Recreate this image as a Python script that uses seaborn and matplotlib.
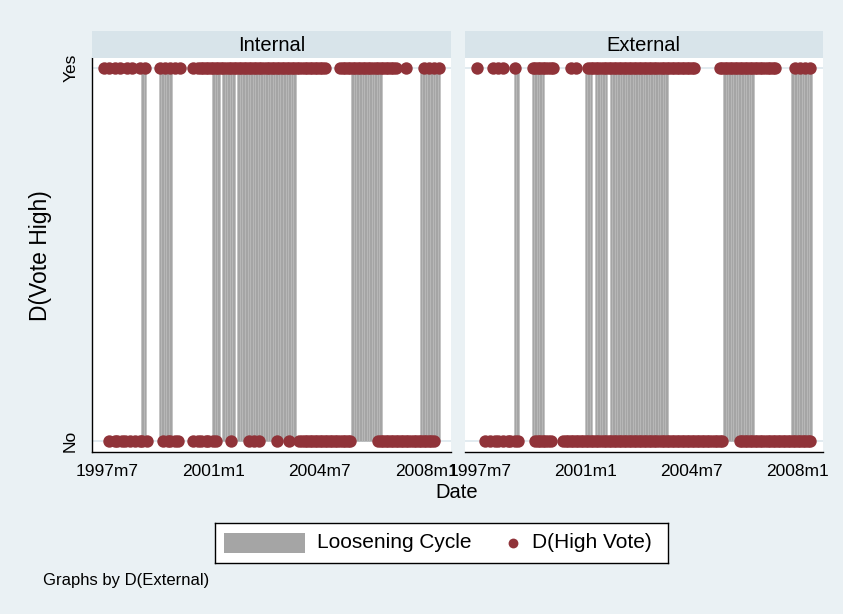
import numpy as np
import pandas as pd
import matplotlib
matplotlib.use('Agg')
import matplotlib.pyplot as plt
import seaborn as sns
from matplotlib.patches import Rectangle

# Stata monthly dates (%tm = months since 1960m1), so 450 is 1997m7
loosening = [464, 465, 471, 472, 473, 474, 475, 492, 493, 494, 496, 497, 498, 499, 500,
             502, 503, 504, 505, 506, 507, 508, 509, 510, 511, 512, 513, 514, 515, 516,
             517, 518, 519, 520, 521, 522, 523, 524, 547, 548, 549, 550, 551, 552, 553,
             554, 555, 556, 557, 558, 574, 575, 576, 577, 578, 579, 580, 581]

internal_yes = [449, 451, 453, 455, 458, 460, 463, 465,
                471, 473, 475, 477, 479,
                484, 486, 487, 488, 489, 490, 491, 492, 493, 494, 495, 496, 497, 498, 499,
                500, 501, 502, 503, 504, 505, 506, 507, 508, 509, 510, 511, 512, 513, 514,
                515, 516, 517, 518, 519, 520, 521, 522, 523, 524, 525, 526, 527, 528, 529,
                530, 531, 532, 533, 534, 535, 536,
                542, 543, 544, 545, 546, 547, 548, 549, 550, 551, 552, 553, 554, 555, 556,
                557, 558, 559, 560, 561, 562, 563, 564, 568,
                575, 577, 579, 581]
internal_no = [451, 453, 454, 456, 457, 459, 461, 463, 464, 466,
               472, 474, 475, 477, 478,
               484, 486, 487, 489, 490, 492, 493,
               499, 506, 508, 510, 517, 522,
               526, 527, 528, 529, 530, 531, 532, 533, 534, 535, 536, 537, 538, 539, 540,
               541, 542, 543, 544, 545, 546,
               557, 558, 559, 560, 561, 562, 563, 564, 565, 566, 567, 568, 569, 570, 571,
               572, 573, 574, 575, 576, 577, 578, 579]

external_yes = [449, 455, 457, 459, 464,
                471, 472, 473, 474, 475, 476, 477, 478, 479,
                486, 488,
                493, 494, 495, 496, 497, 498, 499, 500, 501, 502, 503, 504, 505, 506, 507,
                508, 509, 510, 511, 512, 513, 514, 515, 516, 517, 518, 519, 520, 521, 522,
                523, 524, 525, 526, 527, 528, 529, 530, 531, 532, 533, 534, 535,
                545, 546, 547, 548, 549, 550, 551, 552, 553, 554, 555, 556, 557, 558, 559,
                560, 561, 562, 563, 564, 565, 566, 567,
                575, 577, 579, 581]
external_no = [452, 454, 456, 457, 459, 461, 462, 464, 465,
               472, 473, 474, 475, 476, 477, 478,
               483, 484, 485, 486, 487, 488, 489, 490, 491, 492, 493, 494, 495, 496, 497,
               498, 499, 500, 501, 502, 503, 504, 505, 506, 507, 508, 509, 510, 511, 512,
               513, 514, 515, 516, 517, 518, 519, 520, 521, 522, 523, 524, 525, 526, 527,
               528, 529, 530, 531, 532, 533, 534, 535, 536, 537, 538, 539, 540, 541, 542,
               543, 544, 545, 546,
               553, 554, 555, 556, 557, 558, 559, 560, 561, 562, 563, 564, 565, 566, 567,
               568, 569, 570, 571, 572, 573, 574, 575, 576, 577, 578, 579, 580, 581]

tick_labels = ['1997m7', '2001m1', '2004m7', '2008m1']
panel_titles = ['Internal', 'External']
y_labels = ['No', 'Yes']


def tm(label):
    year, month = label.split('m')
    return (int(year) - 1960) * 12 + int(month) - 1


BG = '#eaf1f4'
STRIP = '#d8e4ea'
DOT = '#903339'
BAR = '#a5a5a5'

sns.set_style('white')
plt.rcParams['font.family'] = ['Liberation Sans', 'DejaVu Sans']
plt.rcParams['text.color'] = 'black'
plt.rcParams['xtick.color'] = 'black'
plt.rcParams['ytick.color'] = 'black'

W, H = 843, 614
fig = plt.figure(figsize=(W / 100, H / 100), dpi=100)
fig.patch.set_facecolor(BG)

panels = {
    'Internal': (internal_yes, internal_no, 92, 359),
    'External': (external_yes, external_no, 465, 357.5),
}

for i, name in enumerate(panel_titles):
    yes, no, x0, w = panels[name]
    ax = fig.add_axes([x0 / W, 1 - 452 / H, w / W, 394.5 / H])
    ax.set_facecolor('white')

    ax.axhline(0, color='#dde8ed', lw=1.2, zorder=1)
    ax.axhline(1, color='#dde8ed', lw=1.2, zorder=1)

    ax.bar(loosening, 1, width=1.0, color=BAR, edgecolor='#bababa', linewidth=0.4, zorder=2)

    df = pd.DataFrame({'date': yes + no, 'vote': [1] * len(yes) + [0] * len(no)})
    sns.scatterplot(data=df, x='date', y='vote', ax=ax, color=DOT, s=80,
                    linewidth=0, alpha=1, legend=False, zorder=3)

    ax.set_xlim(444.1, 585.8)
    ax.set_ylim(-0.0295, 1.028)
    ax.set_xticks([tm(t) for t in tick_labels])
    ax.set_xticklabels(tick_labels, fontsize=12.5)
    ax.set_xlabel('')
    ax.set_ylabel('')
    ax.tick_params(axis='x', length=7, width=1, color='black', labelcolor='black', pad=2)
    for s in ['top', 'right']:
        ax.spines[s].set_visible(False)
    ax.spines['bottom'].set_color('black')
    ax.spines['bottom'].set_linewidth(1)
    if i == 0:
        ax.set_yticks([0, 1])
        ax.set_yticklabels(y_labels, fontsize=12.5, rotation=90, va='center')
        ax.tick_params(axis='y', length=7, width=1, color='black', labelcolor='black', pad=3)
        ax.spines['left'].set_color('black')
        ax.spines['left'].set_linewidth(1)
    else:
        ax.set_yticks([])
        ax.spines['left'].set_visible(False)

    # panel strip
    sax = fig.add_axes([x0 / W, 1 - 57.5 / H, w / W, 26.5 / H])
    sax.set_facecolor(STRIP)
    sax.set_xticks([])
    sax.set_yticks([])
    for s in sax.spines.values():
        s.set_visible(False)
    sax.text(0.5, 0.45, name, ha='center', va='center', fontsize=14.5, transform=sax.transAxes)

fig.text(457 / W, 1 - 493 / H, 'Date', ha='center', va='center', fontsize=14.5)
fig.text(40 / W, 1 - 256 / H, 'D(Vote High)', ha='center', va='center', rotation=90, fontsize=16.5)

# legend box
lax = fig.add_axes([215 / W, 1 - 563 / H, 453 / W, 40 / H])
lax.set_xlim(0, 453)
lax.set_ylim(0, 40)
lax.set_xticks([])
lax.set_yticks([])
for s in lax.spines.values():
    s.set_color('black')
    s.set_linewidth(1)
lax.add_patch(Rectangle((9, 10), 81, 20, facecolor=BAR, edgecolor='none'))
lax.text(102, 20, 'Loosening Cycle', va='center', fontsize=15)
lax.scatter([298], [20], s=50, color=DOT, linewidth=0)
lax.text(317, 20, 'D(High Vote)', va='center', fontsize=15)

fig.text(43 / W, 1 - 580 / H, 'Graphs by D(External)', va='center', fontsize=12)

fig.savefig('out.png', dpi=100, facecolor=fig.get_facecolor())
